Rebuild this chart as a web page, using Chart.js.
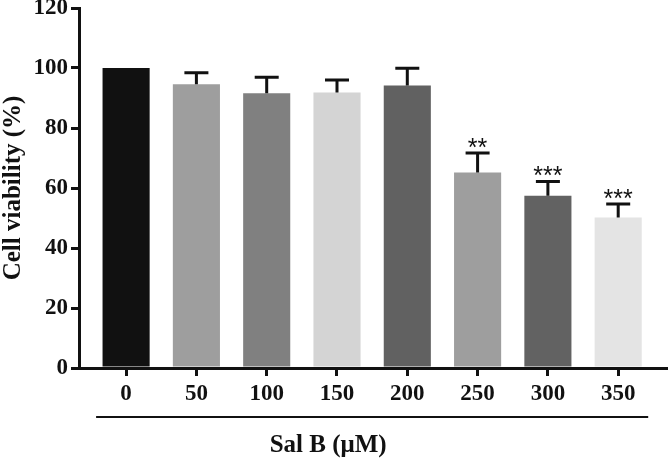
<!DOCTYPE html>
<html>
<head>
<meta charset="utf-8">
<script src="https://cdn.jsdelivr.net/npm/chart.js@4.4.0/dist/chart.umd.min.js"></script>
<style>
  html, body { margin: 0; padding: 0; background: #fff; }
  #wrap { width: 668px; height: 458px; }
</style>
</head>
<body>
<div id="wrap"><canvas id="myChart" width="668" height="458"></canvas></div>
<script>
// data
const doses = [0, 50, 100, 150, 200, 250, 300, 350];
const viability = [100, 94.6, 91.6, 91.8, 94.2, 65.2, 57.4, 50.2];
const sd = [0, 3.8, 5.3, 4.2, 5.7, 6.5, 4.8, 4.5];
const stars = ['', '', '', '', '', '**', '***', '***'];
const yTicks = [0, 20, 40, 60, 80, 100, 120];
const barColors = ['#111111', '#9e9e9e', '#808080', '#d4d4d4', '#616161', '#9e9e9e', '#626262', '#e4e4e4'];

const serif = '"Liberation Serif", "Times New Roman", serif';
const ink = '#111111';

// error bars + significance marks
const errorBars = {
  id: 'errorBars',
  afterDatasetsDraw(chart) {
    const ctx = chart.ctx;
    const yScale = chart.scales.y;
    const meta = chart.getDatasetMeta(0);
    ctx.save();
    ctx.strokeStyle = ink;
    ctx.fillStyle = ink;
    ctx.lineWidth = 3;
    for (let i = 0; i < viability.length; i++) {
      const x = meta.data[i].x;
      const yBar = yScale.getPixelForValue(viability[i]);
      const yTop = yScale.getPixelForValue(viability[i] + sd[i]);
      if (sd[i] > 0) {
        ctx.beginPath();
        ctx.moveTo(x, yBar);
        ctx.lineTo(x, yTop);
        ctx.moveTo(x - 12, yTop);
        ctx.lineTo(x + 12, yTop);
        ctx.stroke();
      }
      if (stars[i]) {
        ctx.font = '25px "Liberation Sans", Arial, sans-serif';
        ctx.textAlign = 'center';
        ctx.textBaseline = 'alphabetic';
        ctx.fillText(stars[i], x, yTop + 3);
      }
    }
    ctx.restore();
  }
};

// line under the tick labels and the x title
const xBracket = {
  id: 'xBracket',
  afterDraw(chart) {
    const ctx = chart.ctx;
    const xs = chart.scales.x;
    const left = xs.getPixelForValue(doses[0]) - 30;
    const right = xs.getPixelForValue(doses[doses.length - 1]) + 30;
    const y = chart.chartArea.bottom + 49;
    ctx.save();
    ctx.strokeStyle = ink;
    ctx.lineWidth = 2;
    ctx.beginPath();
    ctx.moveTo(left, y);
    ctx.lineTo(right, y);
    ctx.stroke();
    ctx.fillStyle = ink;
    ctx.font = 'bold 25px ' + serif;
    ctx.textAlign = 'center';
    ctx.textBaseline = 'middle';
    ctx.fillText('Sal B (\u03bcM)', (left + right) / 2 - 44, y + 29);
    ctx.restore();
  }
};

const ctx = document.getElementById('myChart');
const myChart = new Chart(ctx, {
  type: 'bar',
  data: {
    datasets: [{
      data: doses.map((d, i) => ({ x: d, y: viability[i] })),
      backgroundColor: barColors,
      borderWidth: 0,
      barPercentage: 0.67,
      categoryPercentage: 1
    }]
  },
  options: {
    responsive: false,
    animation: false,
    layout: { padding: { top: 8, right: 2, left: 0, bottom: 0 } },
    plugins: {
      legend: { display: false },
      tooltip: { enabled: false }
    },
    scales: {
      x: {
        type: 'linear',
        offset: false,
        min: -33.5,
        max: 384,
        afterBuildTicks(scale) {
          scale.ticks = doses.map(v => ({ value: v }));
        },
        afterFit(scale) {
          scale.height = 90;
          scale.paddingLeft = 0;
          scale.paddingRight = 0;
        },
        ticks: {
          autoSkip: false,
          maxRotation: 0,
          padding: 4,
          color: ink,
          font: { family: serif, size: 23, weight: 'bold' },
          callback: v => String(v)
        },
        grid: { display: true, offset: false, drawOnChartArea: false, tickLength: 8, lineWidth: 3, color: ink },
        border: { display: true, width: 3, color: ink }
      },
      y: {
        min: 0,
        max: 120,
        afterBuildTicks(scale) {
          scale.ticks = yTicks.map(v => ({ value: v }));
        },
        afterFit(scale) {
          scale.width = 79;
          scale.paddingTop = 0;
          scale.paddingBottom = 0;
        },
        ticks: {
          padding: 3,
          color: ink,
          font: { family: serif, size: 23, weight: 'bold' }
        },
        grid: { display: true, drawOnChartArea: false, tickLength: 8, lineWidth: 3, color: ink },
        border: { display: true, width: 3, color: ink },
        title: {
          display: true,
          text: 'Cell viability (%)',
          color: ink,
          font: { family: serif, size: 25, weight: 'bold', lineHeight: 1 },
          padding: { top: 1, bottom: 0 }
        }
      }
    }
  },
  plugins: [errorBars, xBracket]
});
</script>
</body>
</html>
